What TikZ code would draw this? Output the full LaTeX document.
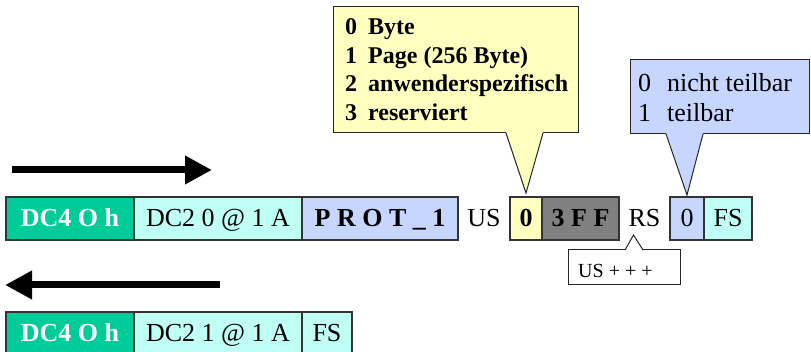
\documentclass[tikz,border=0pt]{standalone}
\usepackage{fontspec}
\setmainfont{Liberation Serif}
\usetikzlibrary{arrows.meta,positioning}

\definecolor{ctrlgreen}{RGB}{0,204,153}
\definecolor{paramcyan}{RGB}{192,255,246}
\definecolor{protblue}{RGB}{198,214,255}
\definecolor{hintyellow}{RGB}{255,255,192}
\definecolor{sizegray}{RGB}{128,128,128}

\tikzset{
  field/.style={draw=black!80, line width=1.2pt, minimum height=43pt, inner sep=0pt,
    outer sep=0pt, text height=17pt, text depth=0pt, font=\fontsize{26}{30}\selectfont},
  boldfield/.style={field, font=\fontsize{26}{30}\selectfont\bfseries},
  gap/.style={field, draw=none},
  callbox/.style={draw=black!85, line width=1pt, inner sep=0pt, outer sep=0pt},
  bigarrow/.style={line width=7pt, -{Triangle[length=27pt,width=27pt]}},
}

\begin{document}
\begin{tikzpicture}[x=1pt,y=-1pt]
  \useasboundingbox (0,0) rectangle (811,352);

  % Direction arrows
  \coordinate (sendfrom) at (12,170);
  \coordinate (sendto) at (212,170);
  \coordinate (backfrom) at (220,285);
  \coordinate (backto) at (5,285);
  \draw[bigarrow] (sendfrom) -- (sendto);
  \draw[bigarrow] (backfrom) -- (backto);

  % Request
  \node[boldfield, fill=ctrlgreen, text=white, minimum width=128pt, anchor=north west] (dcfour) at (6,197) {DC4 O h};
  \node[field, fill=paramcyan, minimum width=168pt, right=0pt of dcfour] (dctwo) {DC2 0 @ 1 A};
  \node[boldfield, fill=protblue, minimum width=156pt, right=0pt of dctwo] (prot) {P R O T \_ 1};
  \node[gap, minimum width=52pt, right=0pt of prot] (us) {US};
  \node[boldfield, fill=hintyellow, minimum width=32pt, right=0pt of us] (unit) {0};
  \node[boldfield, fill=sizegray, minimum width=77pt, right=0pt of unit] (size) {3 F F};
  \node[gap, minimum width=51pt, right=0pt of size] (rs) {RS};
  \node[field, fill=protblue, minimum width=34pt, right=0pt of rs] (part) {0};
  \node[field, fill=paramcyan, minimum width=48pt, right=0pt of part] (fs) {FS};

  % Reply
  \node[boldfield, fill=ctrlgreen, text=white, minimum width=128pt, anchor=north west] (dcfourR) at (6,312) {DC4 O h};
  \node[field, fill=paramcyan, minimum width=168pt, right=0pt of dcfourR] (dctwoR) {DC2 1 @ 1 A};
  \node[field, fill=paramcyan, minimum width=50pt, right=0pt of dctwoR] (fsR) {FS};

  % Callout: unit
  \node[callbox, fill=hintyellow, minimum width=245pt, minimum height=126pt, anchor=north west] (unitnote) at (333,7) {};
  \foreach \num/\txt [count=\i from 0] in {0/Byte, 1/Page (256 Byte), 2/anwenderspezifisch, 3/reserviert}
    \node[anchor=base west, inner sep=0pt, font=\fontsize{24}{28}\selectfont\bfseries] (unitline\i) at (345,35+28.4*\i) {\makebox[23pt][l]{\num}\txt};
  \fill[hintyellow] (506,132) -- ([yshift=4pt]unit.north) -- (543,132) -- cycle;
  \draw[callbox] (506,133) -- ([yshift=4pt]unit.north) -- (543,133);

  % Callout: divisibility
  \node[callbox, fill=protblue, minimum width=179pt, minimum height=74pt, anchor=north west] (partnote) at (630,60) {};
  \foreach \num/\txt [count=\i from 0] in {0/nicht teilbar, 1/teilbar}
    \node[anchor=base west, inner sep=0pt, font=\fontsize{26}{30}\selectfont] (partline\i) at (638,92+30*\i) {\makebox[29pt][l]{\num}\txt};
  \fill[protblue] (666,133) -- ([yshift=2pt]part.north) -- (703,133) -- cycle;
  \draw[callbox] (666,134) -- ([yshift=2pt]part.north) -- (703,134);

  % Callout: record separator
  \node[callbox, fill=white, minimum width=112pt, minimum height=35pt, anchor=north west] (rsnote) at (568,250) {};
  \node[anchor=base west, inner sep=0pt, font=\fontsize{20}{24}\selectfont] (rsline) at (578,278) {US + + +};
  \fill[white] (625,251) -- ([xshift=-11pt,yshift=5pt]rs.south) -- (643,251) -- cycle;
  \draw[callbox] (625,250) -- ([xshift=-11pt,yshift=5pt]rs.south) -- (643,250);
\end{tikzpicture}
\end{document}
